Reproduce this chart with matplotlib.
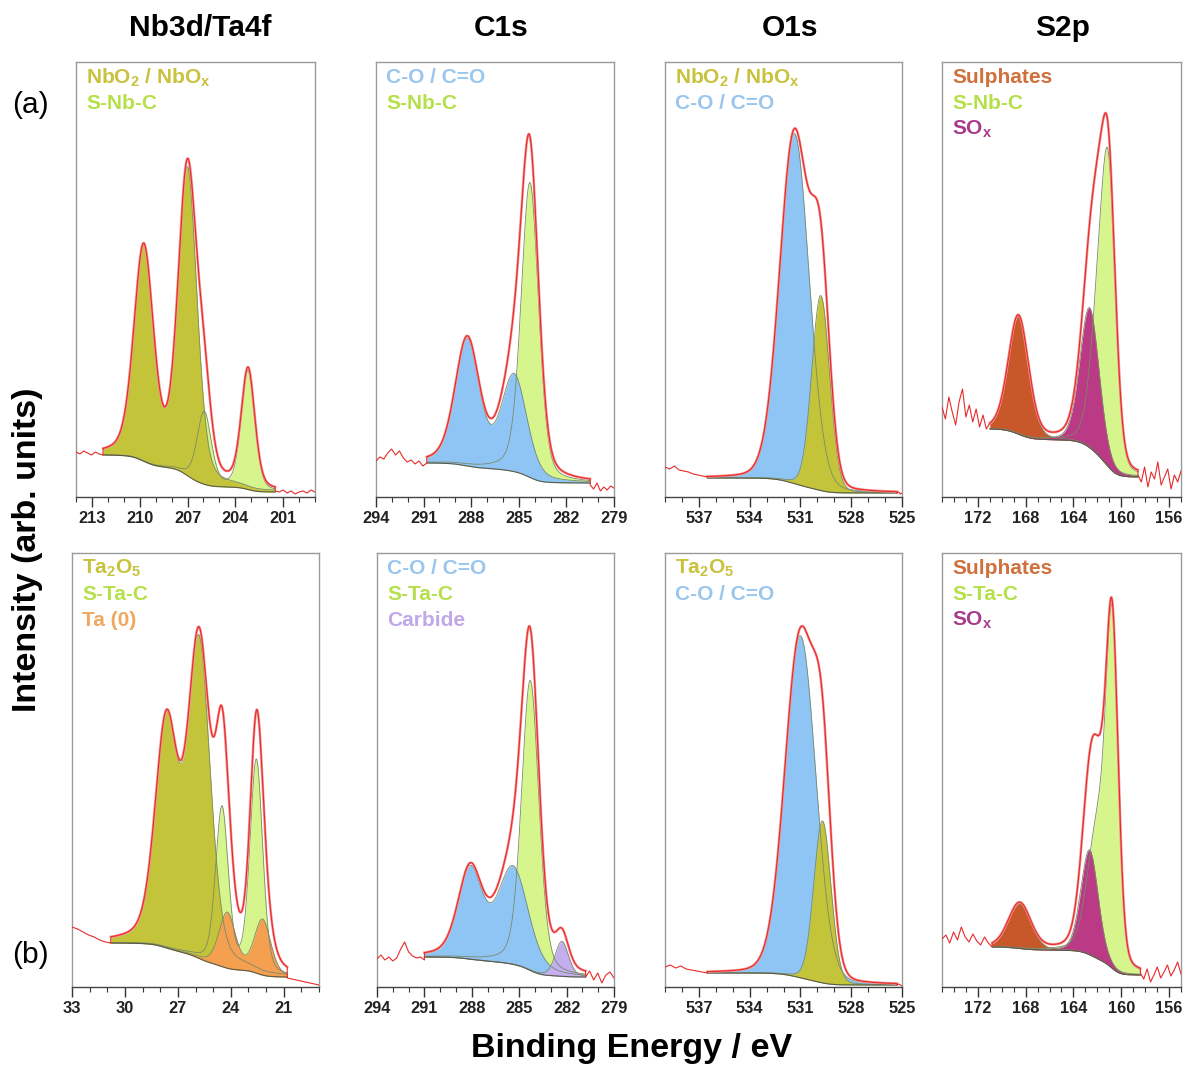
import numpy as np
import matplotlib
matplotlib.use('Agg')
import matplotlib.pyplot as plt
from matplotlib.ticker import MultipleLocator

plt.rcParams['font.family'] = ['Liberation Sans', 'DejaVu Sans']
plt.rcParams['mathtext.fontset'] = 'custom'
plt.rcParams['mathtext.bf'] = 'Liberation Sans:bold'
plt.rcParams['mathtext.rm'] = 'Liberation Sans:bold'

# ---- (a) Nb3d
nb_species = ['S-Nb-C', 'S-Nb-C', 'NbO2', 'NbO2']
nb_center = [203.2, 205.95, 207.0, 209.75]
nb_height = [118, 72, 305, 212]
nb_fwhm = [1.0, 1.05, 1.4, 1.45]
nb_eta = 0.3
nb_bg = [42, 5]
nb_fit = [212.3, 201.5]
nb_xlim = [214, 199]
nb_left = [45, 43, 46, 44, 42, 45, 43, 42]
nb_right = [6, 5, 7, 4, 6, 3, 5, 6, 4, 7, 5]

# ---- (a) C1s
c1a_species = ['S-Nb-C', 'C-O', 'C-O']
c1a_center = [284.3, 288.25, 285.3]
c1a_height = [295, 125, 95]
c1a_fwhm = [1.3, 1.8, 1.9]
c1a_eta = 0.3
c1a_bg = [34, 14]
c1a_fit = [290.8, 280.5]
c1a_xlim = [294, 279]
c1a_left = [36, 40, 38, 44, 48, 42, 46, 39, 35, 37, 33, 36, 31, 34]
c1a_right = [12, 8, 14, 6, 10, 7, 11, 9]

# ---- (a) O1s
o1a_species = ['C-O', 'NbO2']
o1a_center = [531.35, 529.8]
o1a_height = [350, 195]
o1a_fwhm = [2.05, 1.25]
o1a_eta = 0.1
o1a_bg = [19, 4]
o1a_fit = [536.5, 525.3]
o1a_xlim = [539, 525]
o1a_left = [30, 28, 31, 27, 26, 25, 23, 22, 21, 20]
o1a_right = [4, 5, 3, 4]

# ---- (a) S2p
s2a_species = ['Sulphates', 'S-Nb-C', 'S-Nb-C', 'SOx']
s2a_center = [168.6, 161.05, 161.95, 162.65]
s2a_height = [118, 262, 120, 140]
s2a_fwhm = [2.0, 1.4, 1.6, 1.9]
s2a_eta = 0.2
s2a_bg = [68, 20]
s2a_fit = [171.0, 158.6]
s2a_xlim = [175, 155]
s2a_left = [90, 78, 100, 85, 72, 95, 108, 80, 92, 75, 88, 70, 82, 68, 74]
s2a_right = [22, 15, 30, 10, 25, 18, 35, 12, 20, 28, 8, 22, 15, 26]

# ---- (b) Ta4f
ta_species = ['S-Ta-C', 'S-Ta-C', 'Ta2O5', 'Ta2O5', 'Ta0', 'Ta0']
ta_center = [22.55, 24.5, 25.8, 27.65, 22.2, 24.2]
ta_height = [212, 158, 312, 220, 55, 55]
ta_fwhm = [0.85, 0.85, 1.5, 1.5, 1.1, 1.1]
ta_eta = 0.3
ta_bg = [44, 10]
ta_fit = [30.8, 20.8]
ta_xlim = [33, 19]
ta_left = [60, 58, 55, 52, 50, 47, 45, 44]
ta_right = [9, 8, 7, 6, 5, 4, 3, 2]

# ---- (b) C1s
c1b_species = ['S-Ta-C', 'C-O', 'C-O', 'Carbide']
c1b_center = [284.3, 288.1, 285.4, 282.3]
c1b_height = [290, 88, 96, 35]
c1b_fwhm = [1.3, 1.8, 2.3, 1.0]
c1b_eta = 0.3
c1b_bg = [30, 10]
c1b_fit = [291.0, 280.8]
c1b_xlim = [294, 279]
c1b_left = [28, 32, 27, 30, 26, 29, 38, 45, 35, 31, 29, 30, 27]
c1b_right = [10, 16, 7, 14, 4, 12, 15, 9]

# ---- (b) O1s
o1b_species = ['C-O', 'Ta2O5']
o1b_center = [531.0, 529.7]
o1b_height = [342, 162]
o1b_fwhm = [2.15, 1.2]
o1b_eta = 0.1
o1b_bg = [14, 2]
o1b_fit = [536.5, 525.3]
o1b_xlim = [539, 525]
o1b_left = [20, 22, 19, 21, 18, 17, 16, 15, 14]
o1b_right = [2, 3, 2, 1]

# ---- (b) S2p
s2b_species = ['Sulphates', 'S-Ta-C', 'S-Ta-C', 'SOx']
s2b_center = [168.5, 160.75, 161.95, 162.65]
s2b_height = [45, 312, 130, 105]
s2b_fwhm = [2.2, 1.2, 2.0, 1.7]
s2b_eta = 0.2
s2b_bg = [40, 12]
s2b_fit = [170.8, 158.4]
s2b_xlim = [175, 155]
s2b_left = [48, 52, 44, 55, 47, 60, 50, 45, 53, 46, 42, 50, 44, 40]
s2b_right = [14, 8, 18, 5, 12, 20, 9, 15, 22, 11, 17, 25, 13]

fill_color = {'NbO2': '#c4c43a', 'Ta2O5': '#c4c43a', 'S-Nb-C': '#d6f58c',
              'S-Ta-C': '#d6f58c', 'C-O': '#8fc5f5', 'Ta0': '#f4a050',
              'Carbide': '#c4aef0', 'Sulphates': '#c8582a', 'SOx': '#bb3a85'}
text_color = {'NbO2': '#c8c23e', 'Ta2O5': '#c8c23e', 'S-Nb-C': '#b5e04a',
              'S-Ta-C': '#b5e04a', 'C-O': '#9ac6ee', 'Ta0': '#f0a860',
              'Carbide': '#c0a8e8', 'Sulphates': '#d0703c', 'SOx': '#a83c8c'}
label_text = {'NbO2': r'NbO$_\mathbf{2}$ / NbO$_\mathbf{x}$', 'Ta2O5': r'Ta$_\mathbf{2}$O$_\mathbf{5}$',
              'S-Nb-C': 'S-Nb-C', 'S-Ta-C': 'S-Ta-C', 'C-O': 'C-O / C=O', 'Ta0': 'Ta (0)',
              'Carbide': 'Carbide', 'Sulphates': 'Sulphates', 'SOx': r'SO$_\mathbf{x}$'}


def pv(x, c, h, w, eta):
    d = (x - c) / w
    return h * ((1 - eta) * np.exp(-4 * np.log(2) * d ** 2) + eta / (1 + 4 * d ** 2))


panels = [
    (nb_species, nb_center, nb_height, nb_fwhm, nb_eta, nb_bg, nb_fit, nb_xlim, nb_left, nb_right,
     ['NbO2', 'S-Nb-C'], [76, 315, 62, 497], 3),
    (c1a_species, c1a_center, c1a_height, c1a_fwhm, c1a_eta, c1a_bg, c1a_fit, c1a_xlim, c1a_left, c1a_right,
     ['C-O', 'S-Nb-C'], [376, 614, 62, 497], 3),
    (o1a_species, o1a_center, o1a_height, o1a_fwhm, o1a_eta, o1a_bg, o1a_fit, o1a_xlim, o1a_left, o1a_right,
     ['NbO2', 'C-O'], [665, 902, 62, 497], 3),
    (s2a_species, s2a_center, s2a_height, s2a_fwhm, s2a_eta, s2a_bg, s2a_fit, s2a_xlim, s2a_left, s2a_right,
     ['Sulphates', 'S-Nb-C', 'SOx'], [942, 1181, 62, 497], 4),
    (ta_species, ta_center, ta_height, ta_fwhm, ta_eta, ta_bg, ta_fit, ta_xlim, ta_left, ta_right,
     ['Ta2O5', 'S-Ta-C', 'Ta0'], [72, 319, 553, 987], 3),
    (c1b_species, c1b_center, c1b_height, c1b_fwhm, c1b_eta, c1b_bg, c1b_fit, c1b_xlim, c1b_left, c1b_right,
     ['C-O', 'S-Ta-C', 'Carbide'], [377, 614, 553, 987], 3),
    (o1b_species, o1b_center, o1b_height, o1b_fwhm, o1b_eta, o1b_bg, o1b_fit, o1b_xlim, o1b_left, o1b_right,
     ['Ta2O5', 'C-O'], [665, 902, 553, 987], 3),
    (s2b_species, s2b_center, s2b_height, s2b_fwhm, s2b_eta, s2b_bg, s2b_fit, s2b_xlim, s2b_left, s2b_right,
     ['Sulphates', 'S-Ta-C', 'SOx'], [942, 1181, 553, 987], 4),
]

W, H = 1184, 1067
fig = plt.figure(figsize=(W / 100, H / 100), dpi=100)

for sp, cen, hgt, fw, eta, bg, fit, xlim, left, right, legend, box, step in panels:
    l, r, t, b = box
    ax = fig.add_axes([l / W, 1 - b / H, (r - l) / W, (b - t) / H])

    xs = np.linspace(fit[1], fit[0], 800)
    comps = [pv(xs, c, h, w, eta) for c, h, w in zip(cen, hgt, fw)]
    total = np.sum(comps, axis=0)
    # Shirley-type background from the fitted peak area
    cum = np.concatenate([[0], np.cumsum((total[1:] + total[:-1]) / 2 * np.diff(xs))])
    base = bg[1] + (bg[0] - bg[1]) * cum / cum[-1]

    order = list(dict.fromkeys(sp))
    for name in order:
        y = base + np.sum([c for c, s in zip(comps, sp) if s == name], axis=0)
        ax.fill_between(xs, base, y, color=fill_color[name], lw=0, zorder=2)
        ax.plot(xs, y, color='#7a8a6a', lw=0.6, zorder=3)
    ax.plot(xs, base, color='#5a5a4a', lw=0.8, zorder=3)

    xl = np.linspace(xlim[0], fit[0], len(left))
    xr = np.linspace(fit[1], xlim[1], len(right))
    env = base + total
    ax.plot(xs, env, color='#f49090', lw=1.8, zorder=4)
    mx = np.concatenate([xl, xs[::-1], xr])
    my = np.concatenate([left, env[::-1], right])
    ax.plot(mx, my, color='#e82a2a', lw=0.8, zorder=5)

    ax.set_xlim(xlim)
    ax.set_ylim(0, b - t)
    ax.set_yticks([])
    ax.xaxis.set_major_locator(MultipleLocator(step))
    ax.xaxis.set_minor_locator(MultipleLocator(1))
    ax.tick_params(axis='x', which='major', direction='out', length=7, width=1, color='#333333',
                   labelsize=11.8, pad=3)
    ax.tick_params(axis='x', which='minor', direction='out', length=3.5, width=0.8, color='#333333')
    for lab in ax.get_xticklabels():
        lab.set_fontweight('bold')
        lab.set_color('#222222')
    for side in ['top', 'right', 'left']:
        ax.spines[side].set_color('#9a9a9a')
        ax.spines[side].set_linewidth(1.0)
    ax.spines['bottom'].set_color('#444444')
    ax.spines['bottom'].set_linewidth(1.0)

    for k, name in enumerate(legend):
        ax.text(0.042, 0.965 - k * 0.06, label_text[name], transform=ax.transAxes,
                color=text_color[name], fontsize=15, fontweight='bold', va='center', ha='left')

titles = ['Nb3d/Ta4f', 'C1s', 'O1s', 'S2p']
title_x = [200, 501, 790, 1063]
for tx, tl in zip(title_x, titles):
    fig.text(tx / W, 1 - 28 / H, tl, fontsize=21.5, fontweight='bold', ha='center', va='center')

fig.text(30 / W, 1 - 105 / H, '(a)', fontsize=21.5, ha='center', va='center')
fig.text(30 / W, 1 - 955 / H, '(b)', fontsize=21.5, ha='center', va='center')
fig.text(28 / W, 1 - 550 / H, 'Intensity (arb. units)', fontsize=24.5, fontweight='bold',
         rotation=90, ha='center', va='center')
fig.text(632 / W, 1 - 1048 / H, 'Binding Energy / eV', fontsize=24.5, fontweight='bold',
         ha='center', va='center')

fig.savefig('out.png', dpi=100, facecolor='white')
